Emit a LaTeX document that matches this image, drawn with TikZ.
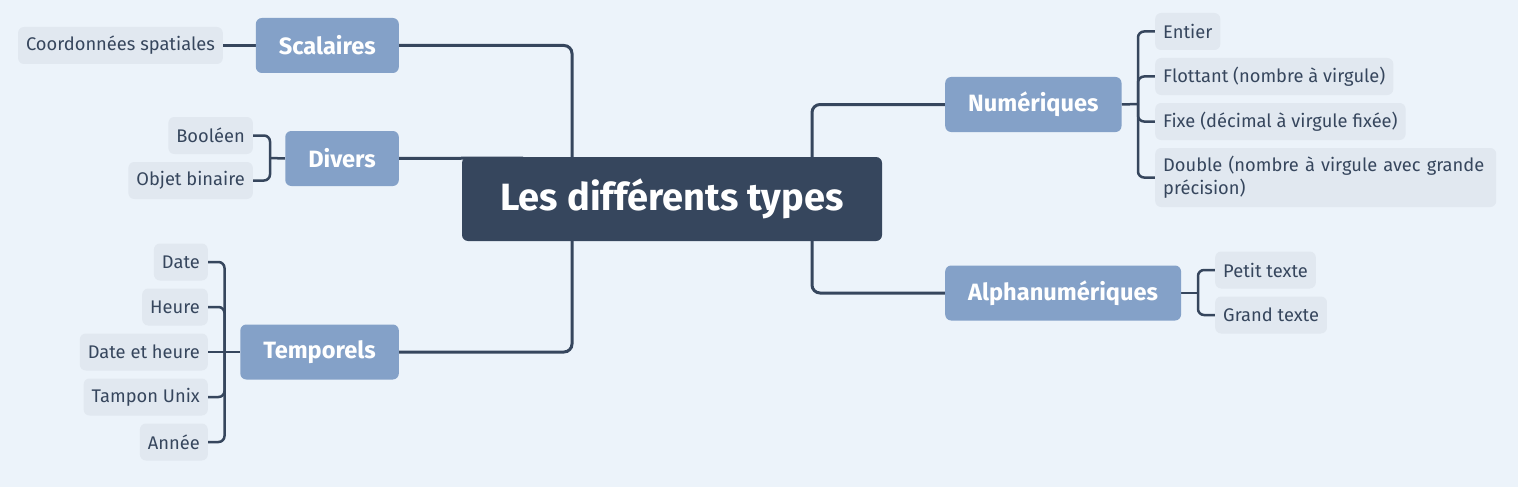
\documentclass[tikz,border=0pt]{standalone}
\usepackage{fontspec}
\setmainfont{Fira Sans}
\usetikzlibrary{backgrounds}
\definecolor{bgc}{HTML}{ECF3FA}
\definecolor{darkc}{HTML}{36465D}
\definecolor{branchc}{HTML}{84A1C8}
\definecolor{leafc}{HTML}{E1E8F0}
\tikzset{
  centre/.style={draw=none,fill=darkc,rounded corners=6pt,text=white,font=\fontsize{38}{43}\selectfont\bfseries,minimum width=420pt,minimum height=84pt,inner sep=0pt},
  branche/.style={fill=branchc,rounded corners=6pt,text=white,font=\fontsize{23.6}{27}\selectfont\bfseries,minimum height=55pt,inner xsep=23pt,inner ysep=0pt},
  feuille/.style={fill=leafc,rounded corners=6pt,text=darkc,font=\fontsize{18.3}{23}\selectfont,minimum height=37pt,inner xsep=8pt,inner ysep=0pt},
  tronc/.style={draw=darkc,line width=3pt,rounded corners=8pt},
  liaison/.style={draw=darkc,line width=2.5pt,rounded corners=6pt},
}
\begin{document}
\begin{tikzpicture}[x=1pt,y=-1pt]
\useasboundingbox (0,0) rectangle (1518,487);
% nodes
\node[centre] (ctr) at (672,199) {Les différents types};
\node[branche,anchor=east] (scal) at (399,45.5) {Scalaires};
\node[branche,anchor=east] (div) at (399,158.5) {Divers};
\node[branche,anchor=east] (temp) at (399,352) {Temporels};
\node[branche,anchor=west] (num) at (945,104.5) {Numériques};
\node[branche,anchor=west] (alp) at (945,293) {Alphanumériques};
% left leaves
\node[feuille,anchor=east] (coord) at (223,45.5) {Coordonnées spatiales};
\node[feuille,anchor=east] (bool) at (253,135.5) {Booléen};
\node[feuille,anchor=east] (obj) at (253,180.5) {Objet binaire};
\node[feuille,anchor=east] (date) at (208,262) {Date};
\node[feuille,anchor=east] (heure) at (208,307) {Heure};
\node[feuille,anchor=east] (dh) at (208,352) {Date et heure};
\node[feuille,anchor=east] (tamp) at (208,397) {Tampon Unix};
\node[feuille,anchor=east] (annee) at (208,442) {Année};
% right leaves
\node[feuille,anchor=west] (ent) at (1155,31.5) {Entier};
\node[feuille,anchor=west] (flot) at (1155,76.5) {Flottant (nombre à virgule)};
\node[feuille,anchor=west] (fixe) at (1155,121.5) {Fixe (décimal à virgule fixée)};
\node[feuille,anchor=west,minimum height=59pt,text width=325pt,align=left,font=\fontsize{18.3}{23}\selectfont] (dbl) at (1155,177.5) {Double (nombre à virgule avec grande\\précision)};
\node[feuille,anchor=west] (pet) at (1215,270) {Petit texte};
\node[feuille,anchor=west] (gr) at (1215,315) {Grand texte};
% junction coordinates
\coordinate (cL) at (572,199);
\coordinate (cR) at (812,199);
\coordinate (dE) at (523,158);
\coordinate (dB) at (270,158);
\coordinate (tB) at (224.5,352);
\coordinate (nB) at (1138,104);
\coordinate (aB) at (1198,293);
\begin{scope}[on background layer]
\fill[bgc] (0,0) rectangle (1518,487);
\draw[tronc] (cL) |- (scal.east);
\draw[tronc] (cL) |- (temp.east);
\draw[tronc] (cR) |- (num.west);
\draw[tronc] (cR) |- (alp.west);
\draw[tronc] (div.east) -- (dE);
\draw[liaison] (coord.east) -- (scal.west);
\draw[liaison] (bool.east) -| (dB) |- (obj.east);
\draw[liaison] (div.west) -- (dB);
\draw[liaison] (date.east) -| (tB) |- (annee.east);
\draw[liaison] (heure.east) -| (tB);
\draw[liaison] (tamp.east) -| (tB);
\draw[liaison] (dh.east) -- (temp.west);
\draw[liaison] (ent.west) -| (nB) |- (dbl.west);
\draw[liaison] (flot.west) -| (nB);
\draw[liaison] (fixe.west) -| (nB);
\draw[liaison] (num.east) -- (nB);
\draw[liaison] (pet.west) -| (aB) |- (gr.west);
\draw[liaison] (alp.east) -- (aB);
\end{scope}
\end{tikzpicture}
\end{document}
